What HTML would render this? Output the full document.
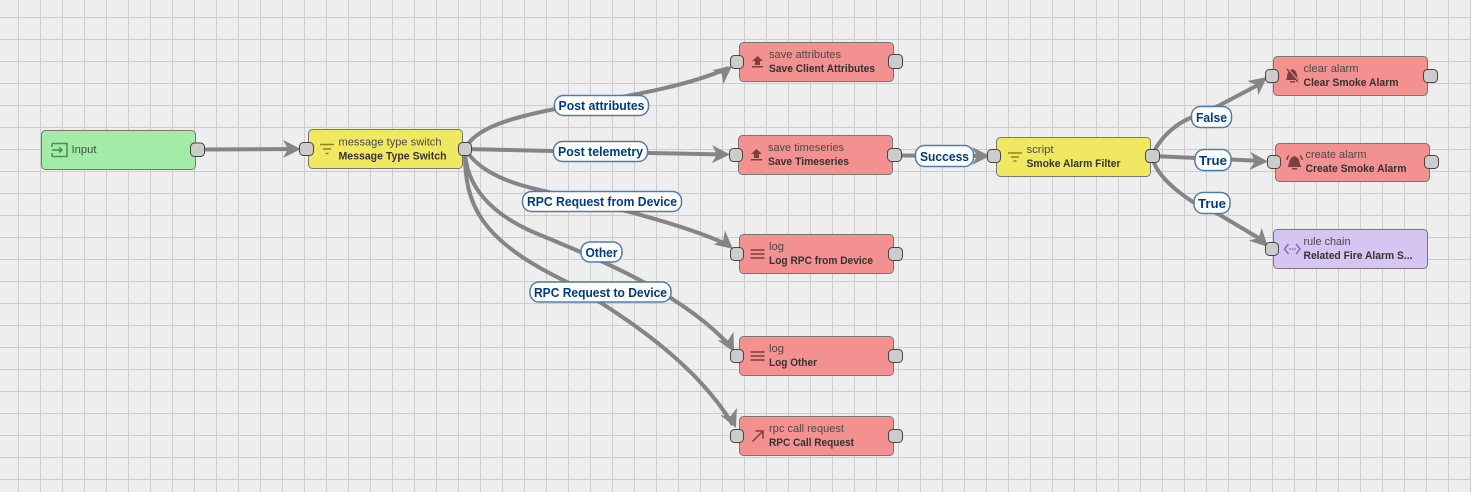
<!DOCTYPE html>
<html><head><meta charset="utf-8">
<style>
html,body{margin:0;padding:0;background:#eee;width:1471px;height:492px;overflow:hidden}
svg{display:block}
text{font-family:"Liberation Sans",sans-serif;}
.t1{font-size:11px;fill:#4a4a4a}
.t2{font-size:11px;font-weight:bold;fill:#333}
.lb{font-size:13px;font-weight:bold;fill:#003a82;text-anchor:middle}
.c{fill:none;stroke:#858585;stroke-width:4}
.a{fill:#858585}
.n{stroke:#777;stroke-width:1}
.p{fill:#ccc;stroke:#444;stroke-width:1}
.l{fill:#fff;stroke:#4f7dab;stroke-width:1.5}
.ic{fill:none;stroke-width:1.5}
</style></head><body>
<svg width="1471" height="492" viewBox="0 0 1471 492" xmlns="http://www.w3.org/2000/svg">
<defs>
<pattern id="g" width="22" height="22" patternUnits="userSpaceOnUse" x="18" y="17">
<path d="M.5 0V22M0 .5H22" fill="none" stroke="#cdcdcd" stroke-width="1"/>
</pattern>
<g id="ah"><path class="a" d="M0 0L-18 -9L-13 0L-18 9Z"/></g>
</defs>
<rect width="1471" height="492" fill="#eeeeee"/>
<rect width="1471" height="492" fill="url(#g)"/>

<path class="c" d="M198 149.500L295 149"/>
<path class="c" d="M465 149C475 128 510 118 555 109C600 100 680 90 728 68"/>
<path class="c" d="M465 149L553 151L650 153L725 154.500"/>
<path class="c" d="M465 149C475 165 495 180 540 190C590 202 680 222 728 245"/>
<path class="c" d="M465 149C465 185 490 213 533 232C590 256 680 290 732 348"/>
<path class="c" d="M465 149C464 205 480 240 567 282C640 325 700 370 733 425"/>
<path class="c" d="M899 155.500L985 156"/>
<path class="c" d="M1152 156C1157 143 1170 127 1190 118C1200 113 1210 110 1220 105L1260 84"/>
<path class="c" d="M1152 156L1264 161"/>
<path class="c" d="M1152 156C1155 172 1170 187 1193 202L1220 215L1262 240"/>

<use href="#ah" transform="translate(301,149)"/>
<use href="#ah" transform="translate(732,66) rotate(-38)"/>
<use href="#ah" transform="translate(730,154.500) rotate(1)"/>
<use href="#ah" transform="translate(733,249) rotate(40)"/>
<use href="#ah" transform="translate(734,352) rotate(62)"/>
<use href="#ah" transform="translate(736,428) rotate(66)"/>
<use href="#ah" transform="translate(990,156)"/>
<use href="#ah" transform="translate(1267,77) rotate(-38)"/>
<use href="#ah" transform="translate(1268,161.500) rotate(2)"/>
<use href="#ah" transform="translate(1268,247) rotate(45)"/>

<!-- nodes -->
<rect class="n" x="41.500" y="130.500" width="154" height="39" rx="4" fill="#a3eca8"/>
<rect class="n" x="308.500" y="129.500" width="154" height="39" rx="4" fill="#f1e861"/>
<rect class="n" x="739.500" y="42.500" width="154" height="39" rx="4" fill="#f39190"/>
<rect class="n" x="738.500" y="135.500" width="154" height="39" rx="4" fill="#f39190"/>
<rect class="n" x="739.500" y="234.500" width="154" height="39" rx="4" fill="#f39190"/>
<rect class="n" x="739.500" y="336.500" width="154" height="39" rx="4" fill="#f39190"/>
<rect class="n" x="739.500" y="416.500" width="154" height="39" rx="4" fill="#f39190"/>
<rect class="n" x="996.500" y="137.500" width="154" height="39" rx="4" fill="#f1e861"/>
<rect class="n" x="1273.500" y="56.500" width="154" height="39" rx="4" fill="#f39190"/>
<rect class="n" x="1275.500" y="143.500" width="154" height="38" rx="4" fill="#f39190"/>
<rect class="n" x="1273.500" y="229.500" width="154" height="39" rx="4" fill="#d6c4f1"/>

<!-- ports -->
<rect class="p" x="190.500" y="143" width="14" height="13.500" rx="4"/>
<rect class="p" x="299.500" y="142.500" width="14" height="13" rx="4"/>
<rect class="p" x="458.500" y="142.500" width="13" height="13" rx="4"/>
<rect class="p" x="730.500" y="55.500" width="13" height="13" rx="4"/>
<rect class="p" x="888.500" y="54.500" width="14" height="14" rx="4"/>
<rect class="p" x="729.500" y="148.500" width="13" height="13" rx="4"/>
<rect class="p" x="887.500" y="148.500" width="14" height="13" rx="4"/>
<rect class="p" x="730.500" y="247.500" width="13" height="13" rx="4"/>
<rect class="p" x="888.500" y="247.500" width="14" height="13" rx="4"/>
<rect class="p" x="730.500" y="349.500" width="13" height="13" rx="4"/>
<rect class="p" x="888.500" y="349.500" width="14" height="13" rx="4"/>
<rect class="p" x="730.500" y="429.500" width="13" height="13" rx="4"/>
<rect class="p" x="888.500" y="429.500" width="14" height="13" rx="4"/>
<rect class="p" x="987.500" y="149.500" width="13" height="13" rx="4"/>
<rect class="p" x="1145.500" y="149.500" width="14" height="13" rx="4"/>
<rect class="p" x="1265.500" y="69.500" width="13" height="13" rx="4"/>
<rect class="p" x="1423.500" y="69.500" width="14" height="13" rx="4"/>
<rect class="p" x="1267.500" y="155.500" width="13" height="13" rx="4"/>
<rect class="p" x="1424.500" y="155.500" width="14" height="13" rx="4"/>
<rect class="p" x="1265.500" y="242.500" width="13" height="13" rx="4"/>

<!-- icons -->
<g class="ic" stroke="#4f8a5a"><path d="M52 147V144.500Q52 143.500 53 143.500H67V156.500H53Q52 156.500 52 155.500V153"/><path d="M52 150H62M59 147.500L62 150L59 152.500"/></g>
<g class="ic" stroke="#8a8420"><path d="M320 144.500H334M323 149H331M325.500 153.500H328.500"/></g>
<g class="ic" stroke="#8a8420"><path d="M1008 153H1022M1011 157H1019M1013.500 161H1016.500"/></g>
<g fill="#7d3f40"><path d="M757.500 56L763 61H760V65H755V61H752Z"/><rect x="752" y="66" width="11" height="1.500"/></g>
<g fill="#7d3f40"><path d="M756.500 149L762 154H759V158H754V154H751Z"/><rect x="751" y="159" width="11" height="1.500"/></g>
<g class="ic" stroke="#7d3f40"><path d="M750.500 250H764.500M750.500 254H764.500M750.500 258H764.500"/></g>
<g class="ic" stroke="#7d3f40"><path d="M750.500 352H764.500M750.500 356H764.500M750.500 360H764.500"/></g>
<path class="ic" stroke="#7d3f40" d="M752.500 441.500L763 431M755.500 431H763V438.500"/>
<g fill="#7d3f40"><path d="M1286 80C1287.500 78 1286.500 71 1291 70Q1292.500 68 1294 70C1297 71 1297 76 1297.500 78L1299 80Z"/><rect x="1290" y="81" width="5" height="1.500"/></g>
<path d="M1288 69L1299 82" stroke="#f39190" stroke-width="2"/><path d="M1287 69L1298 82" stroke="#7d3f40" stroke-width="1.400"/>
<g fill="#7d3f40"><path d="M1287.500 167C1289.500 165 1288.500 158 1293 157Q1294.500 155 1296 157C1300 158 1299.500 165 1301.500 167Z"/><rect x="1292" y="168" width="5" height="1.500"/></g>
<g class="ic" stroke="#7d3f40"><path d="M1289 155.500Q1287 157.500 1287 160M1300 155.500Q1302 157.500 1302 160"/></g>
<g fill="none" stroke="#7a66b0" stroke-width="1.400"><path d="M1288.500 244L1284.500 249L1288.500 254M1296 244L1300 249L1296 254"/></g>
<g fill="#7a66b0"><circle cx="1290" cy="249" r=".8"/><circle cx="1292.500" cy="249" r=".8"/><circle cx="1295" cy="249" r=".8"/></g>

<!-- node text -->
<text class="t1" x="71.500" y="153" textLength="25" lengthAdjust="spacingAndGlyphs">Input</text>
<text class="t1" x="338.500" y="145.500" textLength="103" lengthAdjust="spacingAndGlyphs">message type switch</text>
<text class="t2" x="338.500" y="159.500" textLength="108" lengthAdjust="spacingAndGlyphs">Message Type Switch</text>
<text class="t1" x="769" y="58" textLength="72" lengthAdjust="spacingAndGlyphs">save attributes</text>
<text class="t2" x="769" y="72" textLength="106" lengthAdjust="spacingAndGlyphs">Save Client Attributes</text>
<text class="t1" x="768" y="151" textLength="76" lengthAdjust="spacingAndGlyphs">save timeseries</text>
<text class="t2" x="768" y="165" textLength="81" lengthAdjust="spacingAndGlyphs">Save Timeseries</text>
<text class="t1" x="769" y="250" textLength="15" lengthAdjust="spacingAndGlyphs">log</text>
<text class="t2" x="769" y="264" textLength="104" lengthAdjust="spacingAndGlyphs">Log RPC from Device</text>
<text class="t1" x="769" y="352" textLength="15" lengthAdjust="spacingAndGlyphs">log</text>
<text class="t2" x="769" y="366" textLength="48" lengthAdjust="spacingAndGlyphs">Log Other</text>
<text class="t1" x="769" y="432" textLength="75" lengthAdjust="spacingAndGlyphs">rpc call request</text>
<text class="t2" x="769" y="446" textLength="85" lengthAdjust="spacingAndGlyphs">RPC Call Request</text>
<text class="t1" x="1026.500" y="153" textLength="27" lengthAdjust="spacingAndGlyphs">script</text>
<text class="t2" x="1026.500" y="167" textLength="94" lengthAdjust="spacingAndGlyphs">Smoke Alarm Filter</text>
<text class="t1" x="1303.500" y="72" textLength="55" lengthAdjust="spacingAndGlyphs">clear alarm</text>
<text class="t2" x="1303.500" y="86" textLength="95" lengthAdjust="spacingAndGlyphs">Clear Smoke Alarm</text>
<text class="t1" x="1305.500" y="158" textLength="61" lengthAdjust="spacingAndGlyphs">create alarm</text>
<text class="t2" x="1305.500" y="172" textLength="101" lengthAdjust="spacingAndGlyphs">Create Smoke Alarm</text>
<text class="t1" x="1303.500" y="245" textLength="47" lengthAdjust="spacingAndGlyphs">rule chain</text>
<text class="t2" x="1303.500" y="259" textLength="109" lengthAdjust="spacingAndGlyphs">Related Fire Alarm S...</text>

<!-- labels -->
<rect class="l" x="554.500" y="95.500" width="94" height="20" rx="9"/>
<text class="lb" x="601.500" y="110" textLength="86" lengthAdjust="spacingAndGlyphs">Post attributes</text>
<rect class="l" x="553.500" y="141.500" width="94" height="20" rx="9"/>
<text class="lb" x="600.500" y="156" textLength="85" lengthAdjust="spacingAndGlyphs">Post telemetry</text>
<rect class="l" x="522.500" y="191.500" width="159" height="20" rx="9"/>
<text class="lb" x="602" y="206" textLength="150" lengthAdjust="spacingAndGlyphs">RPC Request from Device</text>
<rect class="l" x="581" y="242" width="41" height="20" rx="9"/>
<text class="lb" x="601.500" y="257" textLength="32" lengthAdjust="spacingAndGlyphs">Other</text>
<rect class="l" x="530" y="282" width="141" height="20" rx="9"/>
<text class="lb" x="600.500" y="297" textLength="133" lengthAdjust="spacingAndGlyphs">RPC Request to Device</text>
<rect class="l" x="915.500" y="145.500" width="58" height="21" rx="9"/>
<text class="lb" x="944.500" y="161" textLength="49" lengthAdjust="spacingAndGlyphs">Success</text>
<rect class="l" x="1191.500" y="106.500" width="40" height="21" rx="9"/>
<text class="lb" x="1211.500" y="122" textLength="31" lengthAdjust="spacingAndGlyphs">False</text>
<rect class="l" x="1195" y="149.500" width="36" height="21" rx="9"/>
<text class="lb" x="1213" y="165" textLength="28" lengthAdjust="spacingAndGlyphs">True</text>
<rect class="l" x="1194" y="192.500" width="36" height="21" rx="9"/>
<text class="lb" x="1212" y="208" textLength="28" lengthAdjust="spacingAndGlyphs">True</text>
</svg>
</body></html>
